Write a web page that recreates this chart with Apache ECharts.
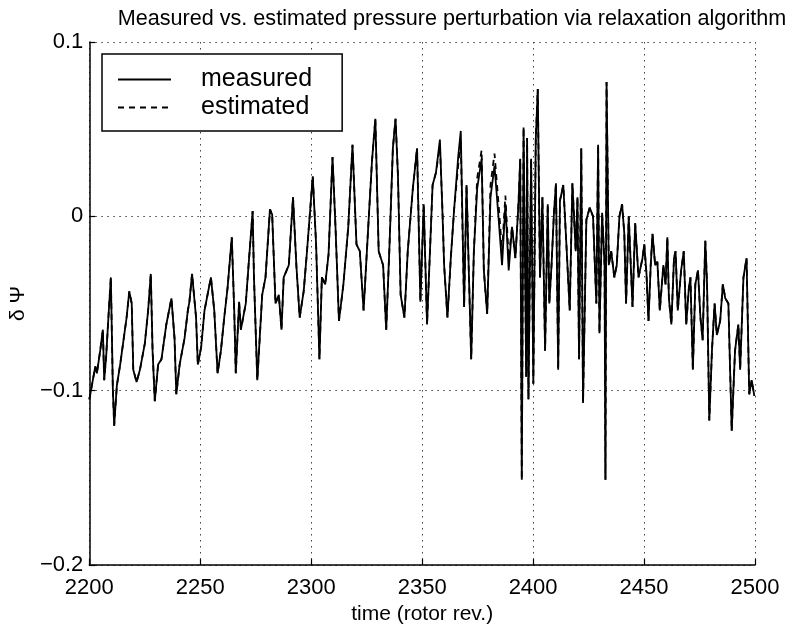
<!DOCTYPE html>
<html>
<head>
<meta charset="utf-8">
<title>Measured vs. estimated pressure perturbation</title>
<script src="https://cdn.jsdelivr.net/npm/echarts@6/dist/echarts.min.js"></script>
<style>
    html, body { margin: 0; padding: 0; background: #fff; }
    #main { width: 798px; height: 630px; }
</style>
</head>
<body>
<div id="main"></div>
<script>
// time axis (rotor rev.)
const timeRev = [
    2200.0, 2202.7, 2203.4, 2204.9, 2206.1, 2206.7, 2207.6, 2208.6, 2209.7, 2210.6,
    2211.2, 2212.4, 2213.9, 2215.3, 2216.8, 2218.0, 2219.1, 2219.8, 2221.3, 2222.8,
    2225.0, 2226.5, 2227.7, 2228.5, 2229.5, 2231.0, 2232.5, 2234.7, 2237.0, 2238.4,
    2239.2, 2240.7, 2242.9, 2244.4, 2245.1, 2246.3, 2248.1, 2248.9, 2250.4, 2251.9,
    2254.8, 2256.3, 2257.8, 2259.3, 2260.8, 2262.3, 2264.2, 2265.3, 2266.0, 2267.5,
    2268.3, 2270.5, 2272.0, 2273.6, 2274.2, 2275.7, 2277.9, 2279.4, 2281.4, 2282.4,
    2283.9, 2285.4, 2286.6, 2287.6, 2289.9, 2291.8, 2293.3, 2294.8, 2296.6, 2298.1,
    2300.7, 2302.2, 2303.7, 2304.8, 2306.3, 2307.8, 2309.6, 2311.0, 2312.5, 2314.5,
    2316.7, 2318.6, 2320.4, 2321.9, 2323.6, 2325.7, 2327.4, 2328.9, 2330.4, 2332.4,
    2333.8, 2335.3, 2336.8, 2338.0, 2339.1, 2340.3, 2342.0, 2343.5, 2345.8, 2347.7,
    2349.2, 2350.7, 2352.2, 2354.7, 2356.2, 2358.0, 2359.2, 2359.9, 2361.4, 2362.9,
    2364.4, 2366.3, 2367.4, 2368.9, 2370.0, 2371.1, 2372.1, 2373.3, 2374.8, 2376.8,
    2377.8, 2379.3, 2380.8, 2382.6, 2384.5, 2386.0, 2387.5, 2389.0, 2390.5, 2392.0,
    2393.4, 2394.2, 2394.9, 2395.7, 2396.9, 2397.3, 2397.9, 2399.1, 2400.1, 2401.2,
    2402.1, 2403.1, 2404.2, 2405.4, 2406.6, 2407.3, 2408.3, 2409.4, 2410.3, 2411.3,
    2412.1, 2413.6, 2415.0, 2416.5, 2417.7, 2419.2, 2420.0, 2420.7, 2421.7, 2422.5,
    2424.0, 2425.5, 2427.0, 2428.5, 2429.3, 2429.9, 2431.1, 2432.2, 2432.6, 2433.1,
    2434.1, 2435.2, 2436.6, 2437.7, 2438.9, 2440.1, 2441.1, 2441.9, 2443.1, 2444.8,
    2446.0, 2447.5, 2449.3, 2450.1, 2451.1, 2452.0, 2453.0, 2453.8, 2455.0, 2456.0,
    2457.1, 2458.7, 2459.7, 2460.5, 2461.2, 2462.3, 2463.5, 2464.2, 2465.2, 2466.7,
    2467.9, 2469.0, 2470.2, 2470.9, 2472.0, 2473.1, 2474.3, 2475.4, 2476.4, 2477.6,
    2478.4, 2479.4, 2480.6, 2481.8, 2482.8, 2484.3, 2485.5, 2486.6, 2488.0, 2489.5,
    2491.0, 2492.5, 2493.3, 2494.8, 2496.2, 2497.4, 2498.5, 2499.7
];

const measured = [
    -0.105, -0.086, -0.090, -0.077, -0.065, -0.094, -0.080, -0.058, -0.035, -0.099,
    -0.120, -0.097, -0.085, -0.072, -0.058, -0.043, -0.050, -0.088, -0.095, -0.088,
    -0.073, -0.054, -0.033, -0.077, -0.106, -0.085, -0.082, -0.062, -0.047, -0.070,
    -0.102, -0.085, -0.070, -0.054, -0.049, -0.033, -0.058, -0.085, -0.075, -0.054,
    -0.035, -0.054, -0.090, -0.077, -0.058, -0.041, -0.012, -0.054, -0.090, -0.049,
    -0.065, -0.050, -0.024, 0.003, -0.035, -0.094, -0.045, -0.035, 0.004, 0.001,
    -0.050, -0.045, -0.065, -0.035, -0.028, 0.011, -0.028, -0.058, -0.043, -0.020,
    0.023, -0.016, -0.082, -0.035, -0.039, -0.022, 0.034, -0.008, -0.060, -0.039,
    -0.006, 0.041, -0.016, -0.020, -0.054, -0.006, 0.032, 0.056, -0.020, -0.028,
    -0.065, -0.016, 0.039, 0.056, 0.023, -0.045, -0.058, -0.020, 0.016, 0.039,
    -0.049, 0.007, -0.062, 0.018, 0.025, 0.044, 0.000, -0.028, -0.058, -0.024,
    0.004, 0.035, 0.049, -0.052, 0.018, -0.035, -0.082, -0.020, 0.016, 0.033,
    -0.031, -0.056, 0.011, 0.029, -0.002, -0.028, 0.007, -0.031, -0.006, -0.024,
    0.007, 0.033, -0.151, 0.051, -0.092, 0.045, -0.105, 0.033, -0.096, 0.044,
    0.073, -0.035, 0.011, -0.077, 0.007, -0.050, -0.028, 0.002, 0.019, -0.088,
    0.009, 0.018, -0.016, -0.054, 0.019, -0.020, 0.011, -0.082, 0.039, -0.107,
    -0.002, 0.005, 0.000, -0.050, 0.041, -0.067, 0.002, -0.028, -0.151, 0.077,
    -0.028, -0.020, -0.035, -0.028, 0.000, 0.007, -0.010, -0.050, 0.000, -0.052,
    -0.004, -0.035, -0.024, -0.016, -0.033, -0.060, -0.028, -0.010, -0.028, -0.026,
    -0.054, -0.028, -0.039, -0.012, -0.047, -0.062, -0.024, -0.020, -0.054, -0.031,
    -0.020, -0.062, -0.041, -0.035, -0.088, -0.039, -0.031, -0.058, -0.071, -0.014,
    -0.039, -0.117, -0.077, -0.050, -0.068, -0.060, -0.039, -0.047, -0.050, -0.123,
    -0.077, -0.062, -0.088, -0.035, -0.024, -0.102, -0.094, -0.103
];

// estimate sits on top of the measurement except around 2355-2390
const estimated = [
    -0.105, -0.086, -0.090, -0.077, -0.065, -0.094, -0.080, -0.058, -0.035, -0.099,
    -0.120, -0.097, -0.085, -0.072, -0.058, -0.043, -0.050, -0.088, -0.095, -0.088,
    -0.073, -0.054, -0.033, -0.077, -0.106, -0.085, -0.082, -0.062, -0.047, -0.070,
    -0.102, -0.085, -0.070, -0.054, -0.049, -0.033, -0.058, -0.085, -0.075, -0.054,
    -0.035, -0.054, -0.090, -0.077, -0.058, -0.041, -0.012, -0.054, -0.090, -0.049,
    -0.065, -0.050, -0.024, 0.003, -0.035, -0.094, -0.045, -0.035, 0.004, 0.001,
    -0.050, -0.045, -0.065, -0.035, -0.028, 0.011, -0.028, -0.058, -0.043, -0.020,
    0.023, -0.016, -0.082, -0.035, -0.039, -0.022, 0.034, -0.008, -0.060, -0.039,
    -0.006, 0.041, -0.016, -0.020, -0.054, -0.006, 0.032, 0.056, -0.020, -0.028,
    -0.065, -0.016, 0.039, 0.056, 0.023, -0.045, -0.058, -0.020, 0.016, 0.039,
    -0.049, 0.007, -0.062, 0.018, 0.025, 0.040, 0.002, -0.028, -0.058, -0.024,
    0.004, 0.030, 0.043, -0.052, 0.018, -0.035, -0.082, -0.020, 0.022, 0.038,
    -0.031, -0.056, 0.018, 0.036, 0.006, -0.020, 0.012, -0.024, -0.006, -0.024,
    0.007, 0.033, -0.151, 0.051, -0.092, 0.045, -0.105, 0.033, -0.096, 0.044,
    0.073, -0.035, 0.011, -0.077, 0.007, -0.050, -0.028, 0.002, 0.019, -0.088,
    0.009, 0.018, -0.016, -0.054, 0.019, -0.020, 0.011, -0.082, 0.039, -0.107,
    -0.002, 0.005, 0.000, -0.050, 0.041, -0.067, 0.002, -0.028, -0.151, 0.077,
    -0.028, -0.020, -0.035, -0.028, 0.000, 0.007, -0.010, -0.050, 0.000, -0.052,
    -0.004, -0.035, -0.024, -0.016, -0.033, -0.060, -0.028, -0.010, -0.028, -0.026,
    -0.054, -0.028, -0.039, -0.012, -0.047, -0.062, -0.024, -0.020, -0.054, -0.031,
    -0.020, -0.062, -0.041, -0.035, -0.088, -0.039, -0.031, -0.058, -0.071, -0.014,
    -0.039, -0.117, -0.077, -0.050, -0.068, -0.060, -0.039, -0.047, -0.050, -0.123,
    -0.077, -0.062, -0.088, -0.035, -0.024, -0.102, -0.094, -0.103
];

const xTicks = [2200, 2250, 2300, 2350, 2400, 2450, 2500];
const yTicks = [-0.2, -0.1, 0, 0.1];

const FONT = 'Liberation Sans, Arial, Helvetica, sans-serif';

function pairs(xs, ys) {
    return xs.map((x, i) => [x, ys[i]]);
}

function fmtY(v) {
    const r = Math.round(v * 10) / 10;
    if (r === 0) return '0';
    return (r < 0 ? '\u2212' : '') + Math.abs(r).toString();
}

const chart = echarts.init(document.getElementById('main'), null, { renderer: 'canvas' });

const dotted = { color: '#444', width: 1, type: [1.5, 4.5] };

const option = {
    animation: false,
    backgroundColor: '#fff',
    textStyle: { fontFamily: FONT, color: '#000' },
    title: {
        text: 'Measured vs. estimated pressure perturbation via relaxation algorithm',
        left: 447,
        top: 3,
        textAlign: 'center',
        textStyle: { fontFamily: FONT, fontSize: 21.6, fontWeight: 'normal', color: '#000' }
    },
    legend: {
        orient: 'vertical',
        left: 102,
        top: 54,
        padding: [13, 30, 11, 15],
        itemGap: 3,
        itemWidth: 53,
        itemHeight: 14,
        borderColor: '#000',
        borderWidth: 1.5,
        backgroundColor: '#fff',
        itemStyle: { opacity: 0 },
        textStyle: { fontFamily: FONT, fontSize: 25, color: '#000', padding: [0, 0, 0, 25] },
        data: ['measured', 'estimated']
    },
    grid: { left: 84, right: 43, top: 42, bottom: 60, containLabel: false },
    xAxis: {
        type: 'value',
        min: xTicks[0],
        max: xTicks[xTicks.length - 1],
        interval: 50,
        name: 'time (rotor rev.)',
        nameLocation: 'middle',
        nameGap: 38,
        nameTextStyle: { fontFamily: FONT, fontSize: 21, color: '#000' },
        axisLine: { onZero: false, lineStyle: { color: '#000', width: 1.5 } },
        axisTick: { inside: true, length: 6, lineStyle: { color: '#000', width: 1.2 } },
        axisLabel: { fontFamily: FONT, fontSize: 22, color: '#000', margin: 12, formatter: v => String(v) },
        splitLine: { show: true, lineStyle: dotted }
    },
    yAxis: {
        type: 'value',
        min: yTicks[0],
        max: yTicks[yTicks.length - 1],
        interval: 0.1,
        name: '\u03B4 \u03A8',
        nameLocation: 'middle',
        nameRotate: 90,
        nameGap: 54,
        nameTextStyle: { fontFamily: FONT, fontSize: 21, color: '#000' },
        axisLine: { onZero: false, lineStyle: { color: '#000', width: 1.5 } },
        axisTick: { inside: true, length: 6, lineStyle: { color: '#000', width: 1.2 } },
        axisLabel: { fontFamily: FONT, fontSize: 22, color: '#000', margin: 6, formatter: fmtY },
        splitLine: { show: true, lineStyle: dotted }
    },
    series: [
        {
            name: 'measured',
            type: 'line',
            symbol: 'none',
            data: pairs(timeRev, measured),
            lineStyle: { color: '#000', width: 1.8 },
            itemStyle: { color: '#000' },
            z: 3
        },
        {
            name: 'estimated',
            type: 'line',
            symbol: 'none',
            data: pairs(timeRev, estimated),
            lineStyle: { color: '#000', width: 1.8, type: [6, 5] },
            itemStyle: { color: '#000' },
            z: 4
        }
    ]
};

chart.setOption(option);
</script>
</body>
</html>
